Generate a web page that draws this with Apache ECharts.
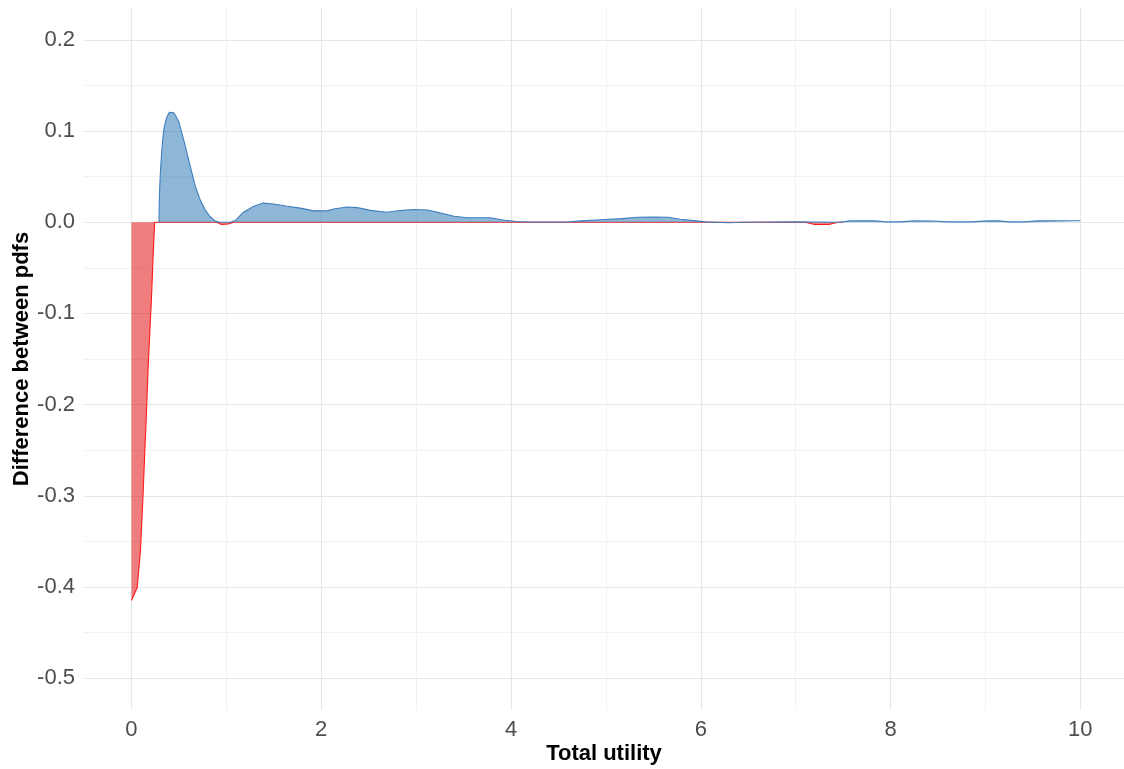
<!DOCTYPE html>
<html>
<head>
<meta charset="utf-8">
<script src="https://cdn.jsdelivr.net/npm/echarts@6/dist/echarts.min.js"></script>
<style>html,body{margin:0;padding:0;background:#fff}#c{width:1124px;height:769px}</style>
</head>
<body>
<div id="c"></div>
<script>
// Negative part of the difference (red)
var redX = [0, 0.018, 0.06, 0.095, 0.12, 0.14, 0.158, 0.176, 0.193, 0.21, 0.228, 0.245, 0.9, 0.95, 1.02, 1.08, 7.1, 7.2, 7.35, 7.45, 7.5];
var redY = [-0.415, -0.414, -0.401, -0.36, -0.305, -0.253, -0.21, -0.159, -0.122, -0.086, -0.038, 0, 0, -0.0025, -0.002, 0, 0, -0.0025, -0.0025, 0, 0];
// Positive part of the difference (blue)
var blueX = [0.29, 0.293, 0.297, 0.306, 0.323, 0.34, 0.358, 0.376, 0.40, 0.42, 0.446, 0.464, 0.50, 0.534, 0.569, 0.604, 0.64, 0.674, 0.727, 0.78, 0.83, 0.885, 0.94, 1.04, 1.096, 1.18, 1.29, 1.39, 1.5, 1.64, 1.78, 1.92, 2.06, 2.13, 2.27, 2.38, 2.52, 2.69, 2.83, 2.97, 3.12, 3.26, 3.40, 3.54, 3.78, 3.92, 4.06, 4.2, 4.6, 4.73, 4.9, 5.17, 5.33, 5.5, 5.66, 5.78, 5.93, 6.05, 6.3, 6.45, 7.0, 7.47, 7.57, 7.68, 7.84, 7.95, 8.1, 8.25, 8.45, 8.6, 8.85, 9.02, 9.14, 9.25, 9.42, 9.55, 10.0];
var blueY = [0, 0.018, 0.036, 0.057, 0.083, 0.101, 0.110, 0.116, 0.1205, 0.1215, 0.12, 0.117, 0.110, 0.097, 0.083, 0.068, 0.053, 0.039, 0.024, 0.013, 0.006, 0.001, 0, 0, 0.002, 0.011, 0.0175, 0.021, 0.020, 0.0175, 0.0155, 0.0125, 0.0125, 0.0145, 0.0168, 0.016, 0.013, 0.011, 0.0128, 0.0139, 0.0135, 0.010, 0.0066, 0.005, 0.005, 0.0025, 0.0008, 0.0002, 0.0002, 0.0015, 0.0025, 0.004, 0.0055, 0.0058, 0.0055, 0.0033, 0.0018, 0.0004, -0.0005, 0, 0.0005, 0, 0.0015, 0.0015, 0.0015, 0.0004, 0.0004, 0.0015, 0.0014, 0.0004, 0.0004, 0.0015, 0.0015, 0.0004, 0.0004, 0.0015, 0.0016];
// Axis breaks
var yMajor = [-0.5, -0.4, -0.3, -0.2, -0.1, 0, 0.1, 0.2];
var yMinor = [-0.45, -0.35, -0.25, -0.15, -0.05, 0.05, 0.15];
var xMajor = [0, 2, 4, 6, 8, 10];
var xMinor = [1, 3, 5, 7, 9];

function pairs(xs, ys) { return xs.map(function (x, i) { return [x, ys[i]]; }); }

var FONT = 'Liberation Sans, Arial, sans-serif';
var majorStyle = { color: '#e6e6e6', width: 1.1, type: 'solid' };
var minorStyle = { color: '#f1f1f1', width: 1, type: 'solid' };
var gridLines = []
  .concat(yMajor.map(function (v) { return { yAxis: v, lineStyle: majorStyle }; }))
  .concat(yMinor.map(function (v) { return { yAxis: v, lineStyle: minorStyle }; }))
  .concat(xMajor.map(function (v) { return { xAxis: v, lineStyle: majorStyle }; }))
  .concat(xMinor.map(function (v) { return { xAxis: v, lineStyle: minorStyle }; }));

var chart = echarts.init(document.getElementById('c'), null, { renderer: 'canvas' });
chart.setOption({
  animation: false,
  backgroundColor: '#ffffff',
  grid: { left: 84, top: 8, right: 0, height: 702, containLabel: false, outerBoundsMode: 'none' },
  xAxis: {
    type: 'value', min: -0.5, max: 10.46,
    axisLine: { show: false }, axisTick: { show: false }, splitLine: { show: false },
    axisLabel: { customValues: xMajor, margin: 9, fontSize: 22, color: '#4d4d4d', fontFamily: FONT,
      formatter: function (v) { return String(v); } },
    name: 'Total utility', nameLocation: 'middle', nameGap: 33, nameMoveOverlap: false,
    nameTextStyle: { fontSize: 22, fontWeight: 'bold', color: '#000', fontFamily: FONT }
  },
  yAxis: {
    type: 'value', min: -0.535, max: 0.235,
    axisLine: { show: false }, axisTick: { show: false }, splitLine: { show: false },
    axisLabel: { customValues: yMajor, margin: 9, fontSize: 22, color: '#4d4d4d', fontFamily: FONT,
      formatter: function (v) { return v.toFixed(1); } },
    name: 'Difference between pdfs', nameLocation: 'middle', nameGap: 51, nameMoveOverlap: false,
    nameTextStyle: { fontSize: 22, fontWeight: 'bold', color: '#000', fontFamily: FONT }
  },
  series: [
    {
      name: 'grid', type: 'line', data: [[0, 0]], symbol: 'none', silent: true, z: 0,
      lineStyle: { opacity: 0 },
      markLine: { silent: true, z: 0, symbol: ['none', 'none'], label: { show: false }, animation: false, data: gridLines }
    },
    {
      name: 'negative', type: 'line', data: pairs(redX, redY), symbol: 'none', z: 2,
      lineStyle: { color: '#ff1a1a', width: 1.1 },
      areaStyle: { color: '#e41a1c', opacity: 0.57, origin: 0 }
    },
    {
      name: 'positive', type: 'line', data: pairs(blueX, blueY), symbol: 'none', z: 3,
      lineStyle: { color: '#3f7fbf', width: 1.1 },
      areaStyle: { color: '#377eb8', opacity: 0.57, origin: 0 }
    }
  ]
});
</script>
</body>
</html>
